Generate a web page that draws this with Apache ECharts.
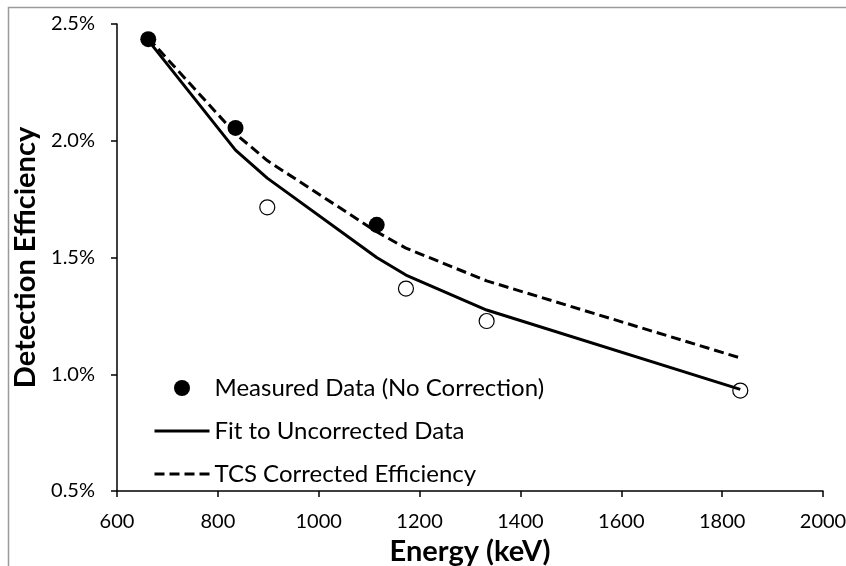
<!DOCTYPE html>
<html>
<head>
<meta charset="utf-8">
<script src="https://cdn.jsdelivr.net/npm/echarts@6/dist/echarts.min.js"></script>
<style>
  html, body { margin: 0; padding: 0; background: #fff; }
  #chart { width: 846px; height: 566px; }
</style>
</head>
<body>
<div id="chart"></div>
<script>
// Energies (keV) of the gamma lines
const energies = [662, 835, 898, 1115, 1173, 1333, 1836];
// Measured data shown as filled circles (energy, efficiency %)
const measuredFilledE = [662, 835, 1115];
const measuredFilledV = [2.435, 2.055, 1.64];
// Measured data shown as open circles
const measuredOpenE = [898, 1173, 1333, 1836];
const measuredOpenV = [1.715, 1.367, 1.228, 0.93];
// Fit to uncorrected data (%)
const fitValues = [2.43, 1.96, 1.84, 1.50, 1.425, 1.275, 0.935];
// TCS corrected efficiency (%)
const tcsValues = [2.44, 2.03, 1.915, 1.61, 1.54, 1.40, 1.07];
// Axis ticks
const yTicks = [0.5, 1.0, 1.5, 2.0, 2.5];
const xTicks = [600, 800, 1000, 1200, 1400, 1600, 1800, 2000];

const FONT = 'Lato';
const pair = (xs, ys) => xs.map((x, i) => [x, ys[i]]);

const chart = echarts.init(document.getElementById('chart'));
chart.setOption({
  animation: false,
  backgroundColor: '#ffffff',
  graphic: [{
    type: 'rect',
    shape: { x: 8.5, y: 7.5, width: 1000, height: 1000 },
    style: { fill: 'none', stroke: '#9a9a9a', lineWidth: 1.5 },
    silent: true
  }],
  grid: { left: 117, right: 23, top: 24, bottom: 75, containLabel: false, outerBoundsMode: 'none' },
  legend: {
    data: [
      { name: 'Measured Data (No Correction)' },
      { name: 'Fit to Uncorrected Data', itemStyle: { opacity: 0 }, lineStyle: { width: 3 } },
      { name: 'TCS Corrected Efficiency', itemStyle: { opacity: 0 }, lineStyle: { width: 3, type: [10, 5] } }
    ],
    orient: 'vertical',
    left: 148,
    top: 371,
    itemWidth: 55,
    itemHeight: 16,
    itemGap: 19,
    textStyle: { fontFamily: FONT, fontSize: 24, color: '#000' },
    selectedMode: false
  },
  xAxis: {
    type: 'value',
    min: xTicks[0],
    max: xTicks[xTicks.length - 1],
    interval: 200,
    name: 'Energy (keV)',
    nameLocation: 'middle',
    nameGap: 35,
    nameTextStyle: { fontFamily: FONT, fontSize: 29, fontWeight: 'bold', color: '#000' },
    axisLine: { lineStyle: { color: '#000', width: 1.5 } },
    axisTick: { length: 6, lineStyle: { color: '#000', width: 1.5 } },
    axisLabel: { fontFamily: FONT, fontSize: 20, color: '#000', margin: 21,
      formatter: v => String(v) },
    splitLine: { show: false }
  },
  yAxis: {
    type: 'value',
    min: yTicks[0],
    max: yTicks[yTicks.length - 1],
    interval: 0.5,
    name: 'Detection Efficiency',
    nameLocation: 'middle',
    nameGap: 66,
    nameTextStyle: { fontFamily: FONT, fontSize: 29, fontWeight: 'bold', color: '#000' },
    axisLine: { show: true, lineStyle: { color: '#000', width: 1.5 } },
    axisTick: { show: true, length: 6, lineStyle: { color: '#000', width: 1.5 } },
    axisLabel: { fontFamily: FONT, fontSize: 20, color: '#000', margin: 22,
      formatter: v => v.toFixed(1) + '%' },
    splitLine: { show: false }
  },
  series: [
    {
      name: 'Fit to Uncorrected Data',
      type: 'line',
      data: pair(energies, fitValues),
      symbol: 'none',
      lineStyle: { color: '#000', width: 3 },
      itemStyle: { color: '#000' },
      z: 2
    },
    {
      name: 'TCS Corrected Efficiency',
      type: 'line',
      data: pair(energies, tcsValues),
      symbol: 'none',
      lineStyle: { color: '#000', width: 3, type: [10, 5] },
      itemStyle: { color: '#000' },
      z: 2
    },
    {
      name: 'Open Points',
      type: 'scatter',
      data: pair(measuredOpenE, measuredOpenV),
      symbol: 'circle',
      symbolSize: 15,
      itemStyle: { color: 'rgba(255,255,255,0)', borderColor: '#000', borderWidth: 1.2, opacity: 1 },
      z: 3
    },
    {
      name: 'Measured Data (No Correction)',
      type: 'scatter',
      data: pair(measuredFilledE, measuredFilledV),
      symbol: 'circle',
      symbolSize: 16,
      itemStyle: { color: '#000', opacity: 1 },
      z: 4
    }
  ]
});
</script>
</body>
</html>
